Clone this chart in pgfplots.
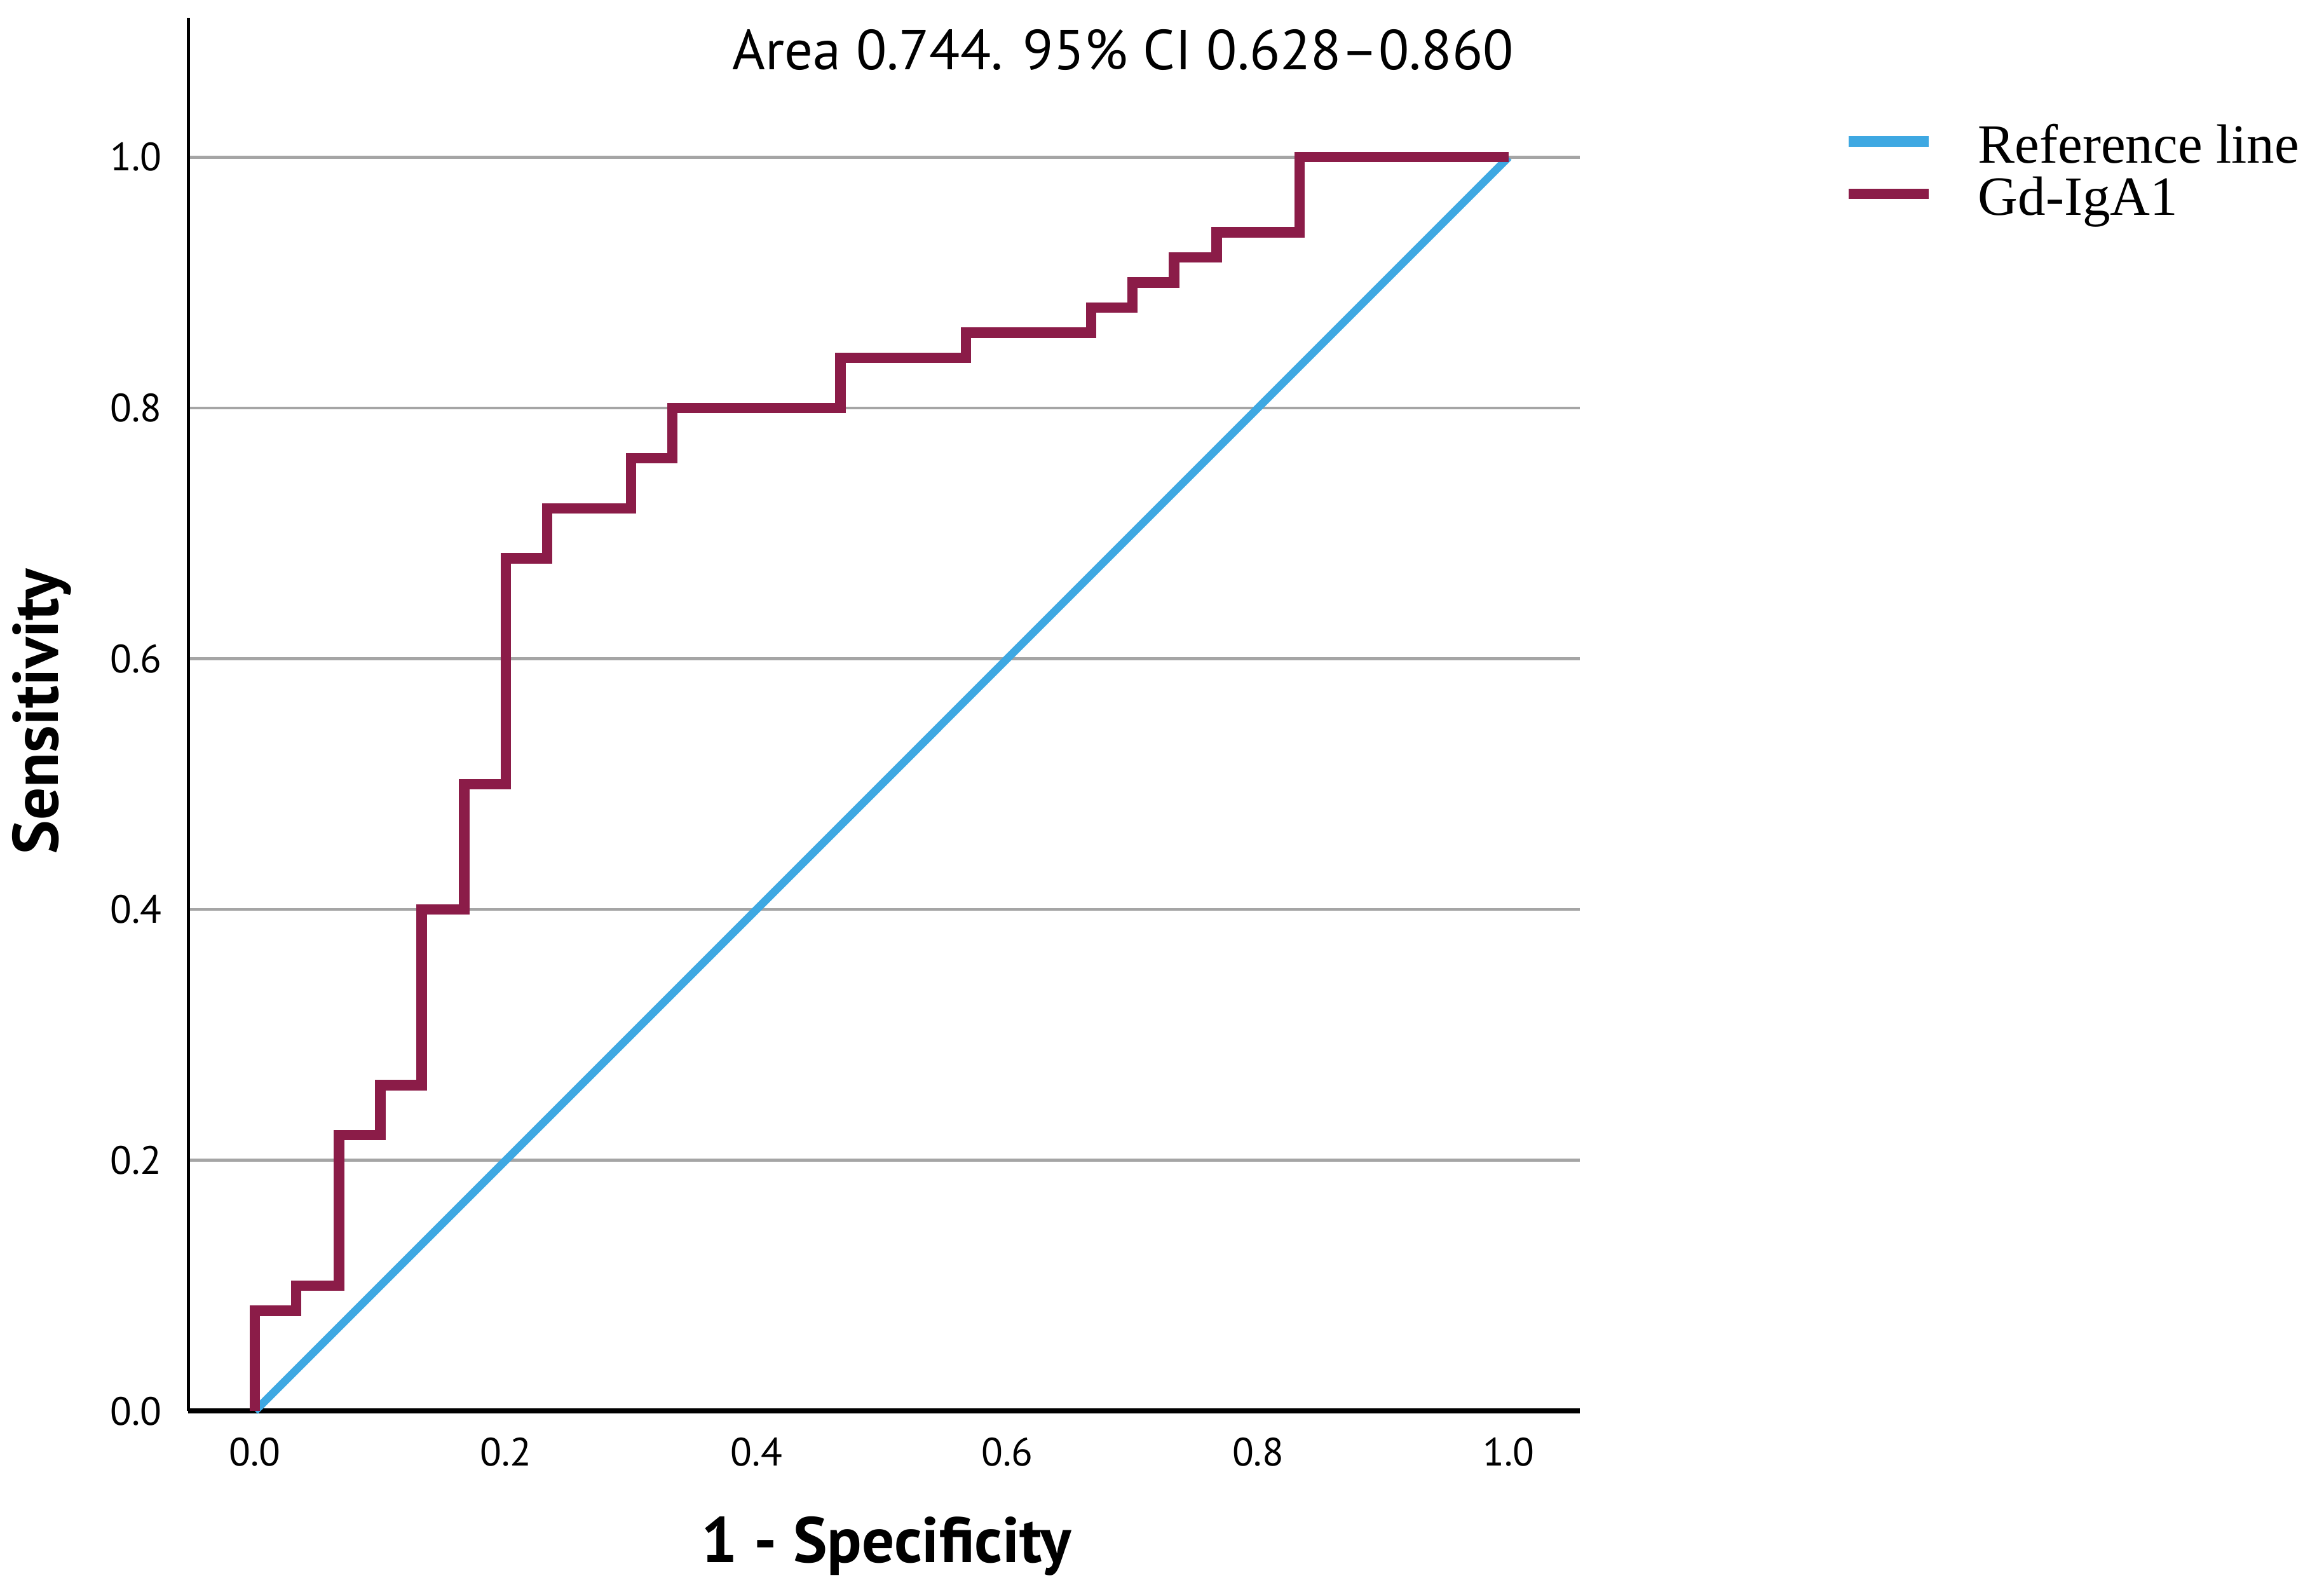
\documentclass[border=0pt]{standalone}
\usepackage{fontspec}
\usepackage{pgfplots}
\pgfplotsset{compat=1.18}
\setsansfont{PT Sans}
\newfontfamily\legfont{Liberation Serif}
\definecolor{rocred}{RGB}{139,28,72}
\definecolor{refblue}{RGB}{62,168,226}
\definecolor{gridgray}{RGB}{165,165,165}

\begin{document}
\begin{tikzpicture}
\begin{axis}[
  scale only axis,
  width=281.7pt, height=282pt,
  xmin=-0.0532, xmax=1.0568,
  ymin=0, ymax=1.1111,
  axis x line*=bottom, axis y line*=left,
  x axis line style={line width=1pt},
  y axis line style={line width=0.6pt},
  xtick={0,0.2,0.4,0.6,0.8,1},
  ytick={0,0.2,0.4,0.6,0.8,1},
  major tick length=0pt,
  ymajorgrids,
  grid style={gridgray, line width=0.6pt},
  /pgf/number format/assume math mode=true,
  xticklabel={\pgfmathprintnumber[fixed,fixed zerofill,precision=1]{\tick}},
  yticklabel={\pgfmathprintnumber[fixed,fixed zerofill,precision=1]{\tick}},
  ticklabel style={font=\sffamily\fontsize{8}{9}\selectfont},
  xticklabel style={yshift=-1.8pt},
  yticklabel style={xshift=-1.8pt},
  xlabel={1 - Specificity},
  ylabel={Sensitivity},
  label style={font=\sffamily\bfseries\fontsize{13}{15}\selectfont},
  xlabel style={at={(axis description cs:0.5016,-0.0968)}, anchor=center},
  ylabel style={at={(axis description cs:-0.1054,0.502)}, anchor=center},
  every axis title shift=0pt,
  title={Area 0.744. 95\% CI 0.628–0.860},
  title style={at={(axis description cs:0.953,0.977)}, anchor=east,
    font=\sffamily\fontsize{11.4}{13}\selectfont, inner sep=0pt},
  legend style={at={(axis description cs:1.1885,0.9315)}, anchor=north west,
    draw=none, fill=none, inner sep=0pt,
    font=\legfont\fontsize{11.2}{13}\selectfont,
    row sep=-2.7pt,
    /tikz/every odd column/.append style={column sep=7pt}},
  legend cell align=left,
  legend image code/.code={\draw[#1, line width=2.1pt] (0pt,1.2pt) -- (16.2pt,1.2pt);},
  clip=false,
]
\addplot[refblue, line width=1.6pt] coordinates {(0,0) (1,1)};
\addlegendentry{Reference line}
\addplot[rocred, line width=2.1pt, line join=miter] coordinates {
  (0,0) (0,0.08) (0.033,0.08) (0.033,0.10) (0.067,0.10) (0.067,0.22)
  (0.1,0.22) (0.1,0.26) (0.133,0.26) (0.133,0.40) (0.167,0.40) (0.167,0.50)
  (0.2,0.50) (0.2,0.68) (0.233,0.68) (0.233,0.72) (0.3,0.72) (0.3,0.76)
  (0.333,0.76) (0.333,0.80) (0.467,0.80) (0.467,0.84) (0.567,0.84) (0.567,0.86)
  (0.667,0.86) (0.667,0.88) (0.7,0.88) (0.7,0.90) (0.733,0.90) (0.733,0.92)
  (0.767,0.92) (0.767,0.94) (0.833,0.94) (0.833,1) (1,1)
};
\addlegendentry{Gd-IgA1}
\end{axis}
\pgfresetboundingbox
\path (-38.1pt,-36.6pt) rectangle (432.3pt,285.6pt);
\end{tikzpicture}
\end{document}
